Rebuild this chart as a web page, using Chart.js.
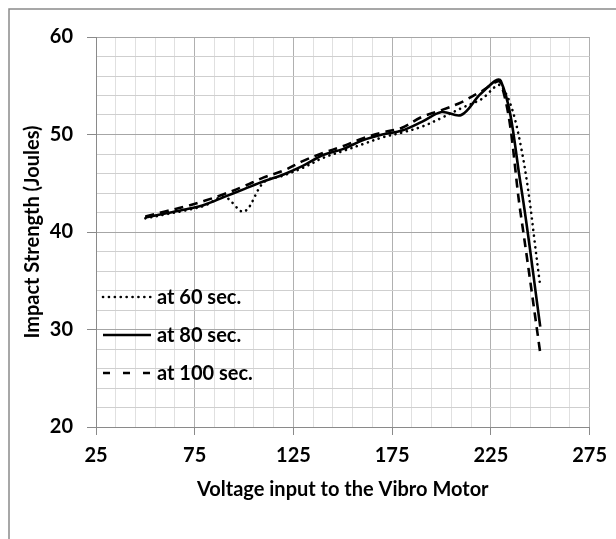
<!DOCTYPE html>
<html><head><meta charset="utf-8">
<script src="https://cdn.jsdelivr.net/npm/chart.js@4.4.1/dist/chart.umd.min.js"></script>
<style>html,body{margin:0;padding:0;background:#fff;} #wrap{width:616px;height:539px;position:relative;}</style>
</head><body><div id="wrap"><canvas id="c" width="616" height="539"></canvas></div>
<script>
// ---- data ----
const voltage = [50, 60, 70, 80, 90, 100, 110, 120, 130, 140, 150, 160, 170, 180, 190, 200, 210, 220, 230, 240, 250];
const impact60sec  = [41.4, 41.8, 42.2, 42.7, 43.6, 42.1, 45.1, 45.8, 46.6, 47.6, 48.3, 49.0, 49.7, 50.2, 50.8, 51.7, 52.7, 53.6, 55.0, 49.0, 34.5];
const impact80sec  = [41.5, 41.9, 42.3, 42.8, 43.6, 44.4, 45.2, 45.9, 46.8, 47.9, 48.5, 49.4, 50.0, 50.4, 51.3, 52.3, 52.0, 54.2, 55.5, 45.0, 30.3];
const impact100sec = [41.6, 42.1, 42.6, 43.2, 43.9, 44.7, 45.6, 46.3, 47.3, 48.1, 48.8, 49.6, 50.2, 50.7, 51.8, 52.5, 53.3, 54.4, 55.3, 42.0, 27.6];
const seriesLabels = ['at 60 sec.', 'at 80 sec.', 'at 100 sec.'];
const xTickLabels = [25, 75, 125, 175, 225, 275];
const yTickLabels = [20, 30, 40, 50, 60];
const xTitle = 'Voltage input to the Vibro Motor';
const yTitle = 'Impact Strength (Joules)';

const FONT = 'Lato, "Liberation Sans", sans-serif';
const FSIZE = 20;
Chart.defaults.font.family = FONT;
Chart.defaults.font.weight = 'bold';
Chart.defaults.font.size = FSIZE;
Chart.defaults.color = '#000';

const pts = ys => voltage.map((x, i) => ({x: x, y: ys[i]}));

const styles = [
  {borderDash: [0.1, 5.7], borderCapStyle: 'round', borderWidth: 2.6, legendDash: [0.1, 5.8]},
  {borderDash: [], borderCapStyle: 'butt', borderWidth: 2.6, legendDash: []},
  {borderDash: [9, 6], borderCapStyle: 'butt', borderWidth: 2.6, legendDash: [7, 13]}
];
const seriesData = [impact60sec, impact80sec, impact100sec];

const datasets = seriesData.map((d, i) => ({
  label: seriesLabels[i],
  data: pts(d),
  borderColor: '#000',
  backgroundColor: '#000',
  borderWidth: styles[i].borderWidth,
  borderDash: styles[i].borderDash,
  borderCapStyle: styles[i].borderCapStyle,
  borderJoinStyle: 'round',
  pointRadius: 0,
  tension: 0.35,
  fill: false
}));

const framePlugin = {
  id: 'frame',
  beforeDraw(chart) {
    const c = chart.ctx;
    c.save();
    c.fillStyle = '#fff';
    c.fillRect(0, 0, chart.width, chart.height);
    c.strokeStyle = '#8a8a8a';
    c.lineWidth = 1.5;
    c.beginPath();
    c.moveTo(9, chart.height);
    c.lineTo(9, 9);
    c.lineTo(chart.width, 9);
    c.stroke();
    c.restore();
  },
  afterDraw(chart) {
    const c = chart.ctx;
    const area = chart.chartArea;
    c.save();
    c.font = 'bold ' + FSIZE + 'px ' + FONT;
    c.fillStyle = '#000';
    c.textBaseline = 'middle';
    // legend inside plot
    const rows = [area.top + 260, area.top + 298, area.top + 336];
    chart.data.datasets.forEach((ds, i) => {
      const y = rows[i];
      c.beginPath();
      c.setLineDash(styles[i].legendDash);
      c.lineCap = styles[i].borderCapStyle;
      c.lineWidth = ds.borderWidth;
      c.strokeStyle = ds.borderColor;
      c.moveTo(area.left + 7, y);
      c.lineTo(area.left + 55, y);
      c.stroke();
      c.setLineDash([]);
      c.textAlign = 'left';
      c.fillText(ds.label, area.left + 61, y + 1);
    });
    c.restore();
  }
};

new Chart(document.getElementById('c'), {
  type: 'line',
  data: {datasets: datasets},
  plugins: [framePlugin],
  options: {
    responsive: false,
    animation: false,
    devicePixelRatio: 1,
    layout: {padding: {left: 0, top: 37, right: 19, bottom: 0}},
    plugins: {legend: {display: false}, tooltip: {enabled: false}},
    scales: {
      x: {
        type: 'linear',
        min: 25, max: 275,
        afterFit: s => { s.height = 112; },
        ticks: {
          stepSize: 10, autoSkip: false, maxRotation: 0, padding: 9,
          callback: v => xTickLabels.includes(v) ? String(v) : ''
        },
        grid: {
          tickLength: 8,
          color: ctx => (ctx.tick && xTickLabels.includes(ctx.tick.value)) ? '#b0b0b0' : '#e0e0e0',
          tickColor: ctx => (ctx.tick && xTickLabels.includes(ctx.tick.value)) ? '#8a8a8a' : 'rgba(0,0,0,0)'
        },
        border: {display: true, color: '#8a8a8a', width: 1},
        title: {display: true, text: xTitle, padding: {top: 0, bottom: 37}, font: {size: FSIZE, weight: 'bold'}}
      },
      y: {
        type: 'linear',
        min: 20, max: 60,
        afterFit: s => { s.width = 96; },
        ticks: {
          stepSize: 2, autoSkip: false, padding: 14,
          callback: v => yTickLabels.includes(v) ? String(v) : ''
        },
        grid: {
          tickLength: 9,
          color: ctx => (ctx.tick && yTickLabels.includes(ctx.tick.value)) ? '#a6a6a6' : '#cfcfcf',
          tickColor: ctx => (ctx.tick && yTickLabels.includes(ctx.tick.value)) ? '#8a8a8a' : 'rgba(0,0,0,0)'
        },
        border: {display: true, color: '#8a8a8a', width: 1},
        title: {display: true, text: yTitle, padding: {top: 21, bottom: 0}, font: {size: FSIZE, weight: 'bold'}}
      }
    }
  }
});
</script></body></html>
